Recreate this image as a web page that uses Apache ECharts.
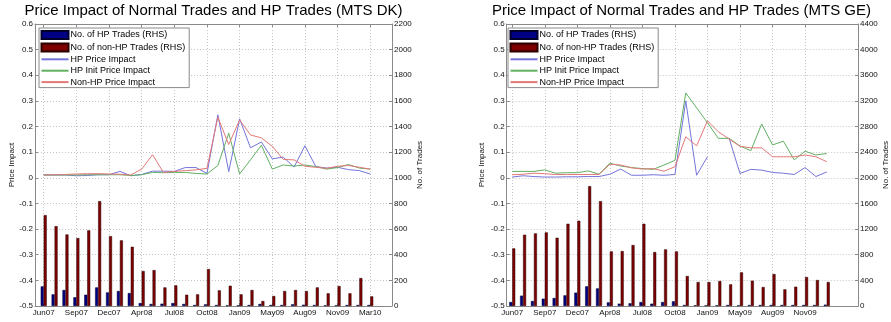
<!DOCTYPE html>
<html><head><meta charset="utf-8">
<script src="https://cdn.jsdelivr.net/npm/echarts@6/dist/echarts.min.js"></script>
<style>html,body{margin:0;padding:0;background:#fff}#c{width:891px;height:322px}</style>
</head><body><div id="c"></div>
<script>
// ---------- DATA ----------
const dkTickLabels = ['Jun07','Sep07','Dec07','Apr08','Jul08','Oct08','Jan09','May09','Aug09','Nov09','Mar10'];
const geTickLabels = ['Jun07','Sep07','Dec07','Apr08','Jul08','Oct08','Jan09','May09','Aug09','Nov09'];

const seriesNames = ['No. of HP Trades (RHS)','No. of non-HP Trades (RHS)','HP Price Impact','HP Init Price Impact','Non-HP Price Impact'];

// MTS DK
const dkHPTrades    = [153, 91, 125, 68, 88, 145, 106, 117, 101, 23, 16, 18, 23, 16, 8, 13, 8, 5, 5, 8, 16, 8, 8, 13, 10, 8, 5, 5, 8, 8, 8];
const dkNonHPTrades = [709, 623, 558, 530, 590, 818, 545, 512, 462, 273, 280, 145, 161, 88, 91, 288, 122, 158, 91, 125, 39, 78, 117, 125, 117, 145, 99, 156, 99, 218, 75];
const dkHPPrice     = [0.011, 0.011, 0.011, 0.008, 0.009, 0.012, 0.012, 0.025, 0.008, 0.013, 0.026, 0.026, 0.025, 0.040, 0.040, 0.017, 0.246, 0.024, 0.230, 0.117, 0.140, 0.074, 0.081, 0.042, 0.125, 0.044, 0.038, 0.041, 0.032, 0.028, 0.015];
const dkHPInitPrice = [0.011, 0.011, 0.011, 0.011, 0.012, 0.012, 0.012, 0.012, 0.009, 0.012, 0.021, 0.020, 0.021, 0.021, 0.017, 0.015, 0.048, 0.174, 0.015, 0.070, 0.127, 0.034, 0.050, 0.046, 0.050, 0.044, 0.034, 0.040, 0.052, 0.038, 0.034];
const dkNonHPPrice  = [0.011, 0.012, 0.013, 0.015, 0.016, 0.016, 0.015, 0.014, 0.011, 0.034, 0.090, 0.021, 0.025, 0.028, 0.031, 0.037, 0.236, 0.130, 0.226, 0.167, 0.156, 0.123, 0.072, 0.070, 0.045, 0.041, 0.037, 0.045, 0.048, 0.041, 0.034];

// MTS GE
const geHPTrades    = [62, 161, 78, 114, 125, 166, 208, 307, 275, 57, 36, 42, 62, 36, 62, 73, 16, 10, 10, 10, 16, 10, 16, 16, 16, 16, 16, 16, 16, 21];
const geNonHPTrades = [899, 1112, 1133, 1148, 1065, 1283, 1330, 1870, 1636, 852, 857, 951, 1283, 842, 883, 852, 468, 374, 374, 390, 338, 525, 395, 296, 499, 260, 301, 452, 405, 374];
const geHPPrice     = [0.003, 0.008, 0.005, 0.003, 0.003, 0.004, 0.004, 0.005, 0.005, 0.014, 0.034, 0.010, 0.010, 0.012, 0.010, 0.013, 0.300, 0.010, 0.082, null, 0.154, 0.017, 0.033, 0.030, 0.021, 0.018, 0.013, 0.040, 0.005, 0.023];
const geHPInitPrice = [0.025, 0.025, 0.025, 0.031, 0.018, 0.020, 0.020, 0.027, 0.014, 0.057, 0.046, 0.040, 0.036, 0.033, 0.050, 0.068, 0.331, 0.273, 0.215, 0.154, 0.154, 0.124, 0.106, 0.210, 0.128, 0.143, 0.070, 0.104, 0.089, 0.095];
const geNonHPPrice  = [0.012, 0.014, 0.018, 0.016, 0.013, 0.013, 0.013, 0.013, 0.013, 0.053, 0.050, 0.039, 0.034, 0.036, 0.026, 0.043, 0.160, 0.125, 0.222, 0.180, 0.151, 0.123, 0.117, 0.117, 0.082, 0.082, 0.082, 0.089, 0.082, 0.063];

// ---------- STYLE ----------
const FONT = '"Liberation Sans", Arial, Helvetica, sans-serif';
const AX = '#8a8a8a';
const GRID = '#c4c4c4';
const C_HPBAR = '#000085', C_NHPBAR = '#7d0000';
const C_HPL = '#7474dc', C_INITL = '#62b062', C_NHPL = '#e47878';

function xy(arr){ return arr.map((v,i)=>[i, v==null ? '-' : v]); }

const panels = [
  { title:'Price Impact of Normal Trades and HP Trades (MTS DK)', titleX:213.5, left:35, width:357, xmin:-0.8, xmax:32,
    rmax:2200, rint:200, labels:dkTickLabels, hp:dkHPTrades, nhp:dkNonHPTrades,
    l1:dkHPPrice, l2:dkHPInitPrice, l3:dkNonHPPrice, legLeft:39, nameL:19, nameR:24 },
  { title:'Price Impact of Normal Trades and HP Trades (MTS GE)', titleX:681.5, left:506.7, width:354.3, xmin:-0.51, xmax:31.88,
    rmax:4400, rint:400, labels:geTickLabels, hp:geHPTrades, nhp:geNonHPTrades,
    l1:geHPPrice, l2:geHPInitPrice, l3:geNonHPPrice, legLeft:508, nameL:21, nameR:24 }
];

const noSymbol = { color:'rgba(0,0,0,0)', borderColor:'rgba(0,0,0,0)', borderWidth:0, opacity:0 };

const option = { animation:false, backgroundColor:'#fff', title:[], grid:[], xAxis:[], yAxis:[], series:[], legend:[] };

panels.forEach((p, k) => {
  const ticks = p.labels.map((_, i) => i*3);
  option.title.push({ text:p.title, left:p.titleX, textAlign:'center', top:3, padding:0,
    textStyle:{ fontSize:15, fontWeight:'normal', color:'#000', fontFamily:FONT } });
  option.grid.push({ left:p.left, top:24, width:p.width, height:282 });
  option.xAxis.push({ gridIndex:k, type:'value', min:p.xmin, max:p.xmax, position:'bottom',
    axisLine:{ show:true, onZero:false, lineStyle:{ color:AX, width:1 } },
    axisTick:{ show:true, inside:true, length:3, customValues:ticks, lineStyle:{ color:AX } },
    axisLabel:{ customValues:ticks, formatter:v => p.labels[Math.round(v/3)] || '', fontSize:8, color:'#111', margin:3, fontFamily:FONT },
    splitLine:{ show:true, lineStyle:{ color:GRID, type:[1,2] } } });
  option.xAxis.push({ gridIndex:k, type:'value', min:p.xmin, max:p.xmax, position:'top',
    axisLine:{ show:true, onZero:false, lineStyle:{ color:AX, width:1 } },
    axisTick:{ show:true, inside:true, length:3, customValues:ticks, lineStyle:{ color:AX } },
    axisLabel:{ show:false }, splitLine:{ show:false } });
  option.yAxis.push({ gridIndex:k, type:'value', min:-0.5, max:0.6, interval:0.1, position:'left',
    name:'Price Impact', nameLocation:'middle', nameGap:p.nameL, nameRotate:90,
    nameTextStyle:{ fontSize:8, color:'#111', fontFamily:FONT },
    axisLine:{ show:true, onZero:false, lineStyle:{ color:AX, width:1 } },
    axisTick:{ show:true, inside:true, length:3, lineStyle:{ color:AX } },
    axisLabel:{ fontSize:8, color:'#111', margin:2, fontFamily:FONT, formatter:v => String(+v.toFixed(1)) },
    splitLine:{ show:true, lineStyle:{ color:GRID, type:[1,2] } } });
  option.yAxis.push({ gridIndex:k, type:'value', min:0, max:p.rmax, interval:p.rint, position:'right',
    name:'No. of Trades', nameLocation:'middle', nameGap:p.nameR, nameRotate:90,
    nameTextStyle:{ fontSize:8, color:'#111', fontFamily:FONT },
    axisLine:{ show:true, onZero:false, lineStyle:{ color:AX, width:1 } },
    axisTick:{ show:true, inside:true, length:3, lineStyle:{ color:AX } },
    axisLabel:{ fontSize:8, color:'#111', margin:2, fontFamily:FONT, formatter:v => String(Math.round(v)) },
    splitLine:{ show:false } });
  const xi = k*2, yl = k*2, yr = k*2+1;
  option.series.push(
    { name:seriesNames[0], type:'bar', xAxisIndex:xi, yAxisIndex:yr, data:xy(p.hp), barWidth:3, barGap:'0%',
      itemStyle:{ color:C_HPBAR, borderColor:'#00002a', borderWidth:0.5 } },
    { name:seriesNames[1], type:'bar', xAxisIndex:xi, yAxisIndex:yr, data:xy(p.nhp), barWidth:3, barGap:'0%',
      itemStyle:{ color:C_NHPBAR, borderColor:'#2a0000', borderWidth:0.5 } },
    { name:seriesNames[2], type:'line', xAxisIndex:xi, yAxisIndex:yl, data:xy(p.l1), symbol:'none', z:3,
      lineStyle:{ color:C_HPL, width:1 }, itemStyle:{ color:C_HPL } },
    { name:seriesNames[3], type:'line', xAxisIndex:xi, yAxisIndex:yl, data:xy(p.l2), symbol:'none', z:3,
      lineStyle:{ color:C_INITL, width:1 }, itemStyle:{ color:C_INITL } },
    { name:seriesNames[4], type:'line', xAxisIndex:xi, yAxisIndex:yl, data:xy(p.l3), symbol:'none', z:3,
      lineStyle:{ color:C_NHPL, width:1 }, itemStyle:{ color:C_NHPL } }
  );
  option.legend.push({ left:p.legLeft, top:28, orient:'vertical', selectedMode:false,
    data:[ {name:seriesNames[0], icon:'rect'}, {name:seriesNames[1], icon:'rect'},
           {name:seriesNames[2], itemStyle:noSymbol}, {name:seriesNames[3], itemStyle:noSymbol}, {name:seriesNames[4], itemStyle:noSymbol} ],
    itemWidth:27, itemHeight:8, itemGap:2.4, padding:[2,4,1,1.5],
    borderColor:'#8a8a8a', borderWidth:1, backgroundColor:'#fff',
    textStyle:{ fontSize:9, color:'#000', fontFamily:FONT, lineHeight:9, padding:[0,0,0,-3] } });
});

const chart = echarts.init(document.getElementById('c'), null, { renderer:'canvas' });
chart.setOption(option);
</script>
</body></html>
